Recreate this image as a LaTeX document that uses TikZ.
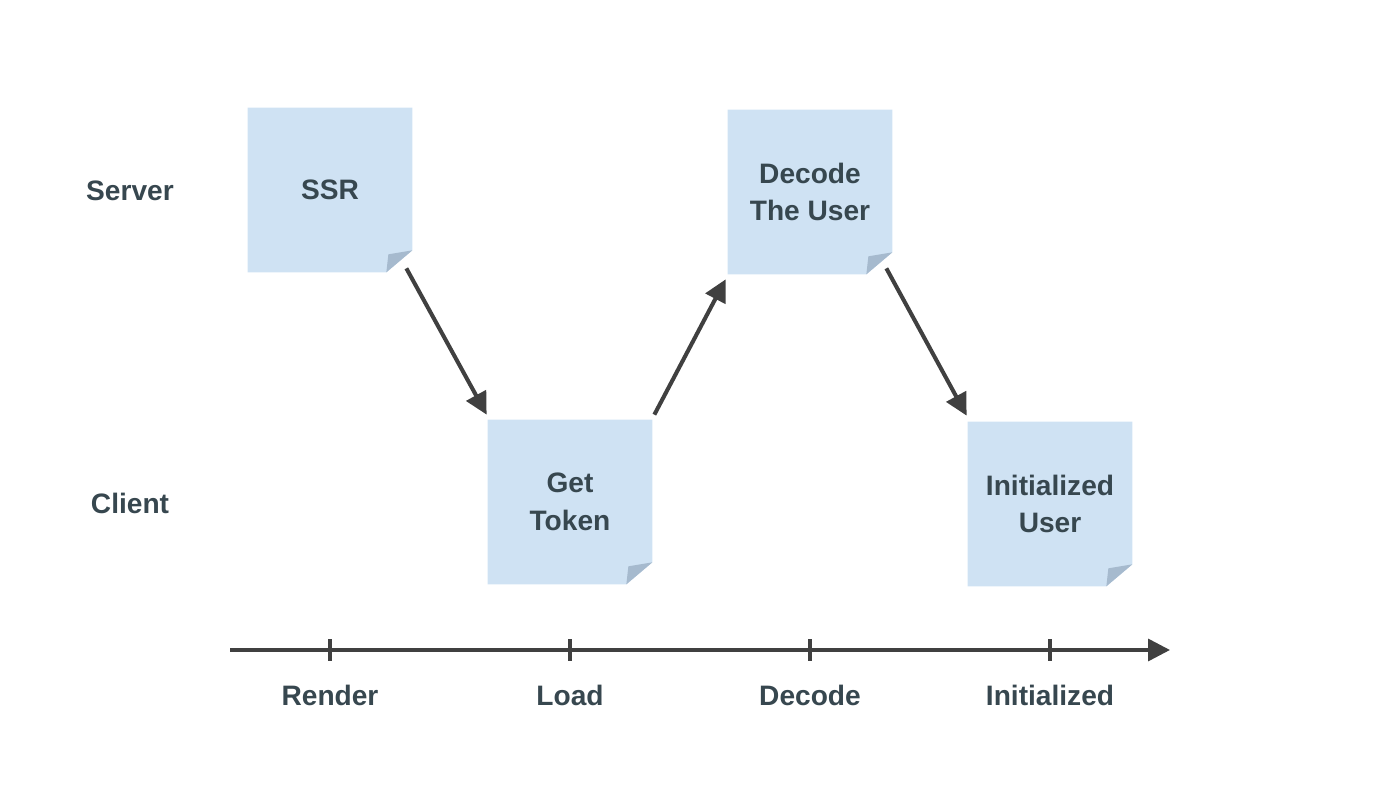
\documentclass[tikz,border=0pt]{standalone}
\usepackage{fontspec}
\setmainfont{Liberation Sans}
\usepackage{xcolor}
\definecolor{notefill}{RGB}{207,226,243}
\definecolor{notefold}{RGB}{166,186,206}
\definecolor{inkdark}{RGB}{55,71,79}
\definecolor{arrowgray}{RGB}{64,64,64}
\usetikzlibrary{arrows.meta,positioning,backgrounds}

\begin{document}
\begin{tikzpicture}[
  note/.style={minimum width=3.28cm,minimum height=3.28cm,inner sep=0pt,align=center,font=\fontsize{16}{21.5}\selectfont\bfseries,text=inkdark},
  lane/.style={font=\fontsize{16}{20}\selectfont\bfseries,text=inkdark},
  flow/.style={-{Triangle[length=0.44cm,width=0.44cm]},line width=2.3pt,arrowgray},
  tick/.style={line width=2pt,arrowgray}]
  \useasboundingbox (0,0) rectangle (28,16);
  % Lanes
  \node[lane] (server) at (2.6,12.18) {Server};
  \node[lane] (client) at (2.6,5.94) {Client};
  % Notes
  \node[note] (ssr) at (6.6,12.2) {SSR};
  \node[note] (token) at (11.4,5.96) {Get\\Token};
  \node[note] (decode) at (16.2,12.16) {Decode\\The User};
  \node[note] (user) at (21,5.92) {Initialized\\User};
  \begin{scope}[on background layer]
    \foreach \n in {ssr,token,decode,user} {
      \fill[notefill] (\n.north west) -- (\n.north east) -- ([yshift=0.44cm]\n.south east)
        -- ([xshift=-0.52cm]\n.south east) -- (\n.south west) -- cycle;
      \fill[notefold] ([yshift=0.44cm]\n.south east) -- ([xshift=-0.52cm]\n.south east)
        -- ([shift={(-0.48,0.36)}]\n.south east) -- cycle;
    }
  \end{scope}
  % Flow
  \draw[flow] ([shift={(-0.12,0.08)}]ssr.south east) -- ([shift={(-0.02,0.1)}]token.north west);
  \draw[flow] ([shift={(0.04,0.1)}]token.north east) -- ([shift={(-0.04,-0.1)}]decode.south west);
  \draw[flow] ([shift={(-0.12,0.12)}]decode.south east) -- ([shift={(-0.02,0.12)}]user.north west);
  % Time axis
  \coordinate (axstart) at (4.6,3);
  \coordinate (axend) at (23.4,3);
  \draw[flow,line width=2pt] (axstart) -- (axend);
  \foreach \x/\name/\lbl in {6.6/render/Render,11.4/load/Load,16.2/dec/Decode,21/init/Initialized} {
    \draw[tick] (\x,2.78) -- (\x,3.22);
    \node[lane] (l-\name) at (\x,2.1) {\lbl};
  }
\end{tikzpicture}
\end{document}
